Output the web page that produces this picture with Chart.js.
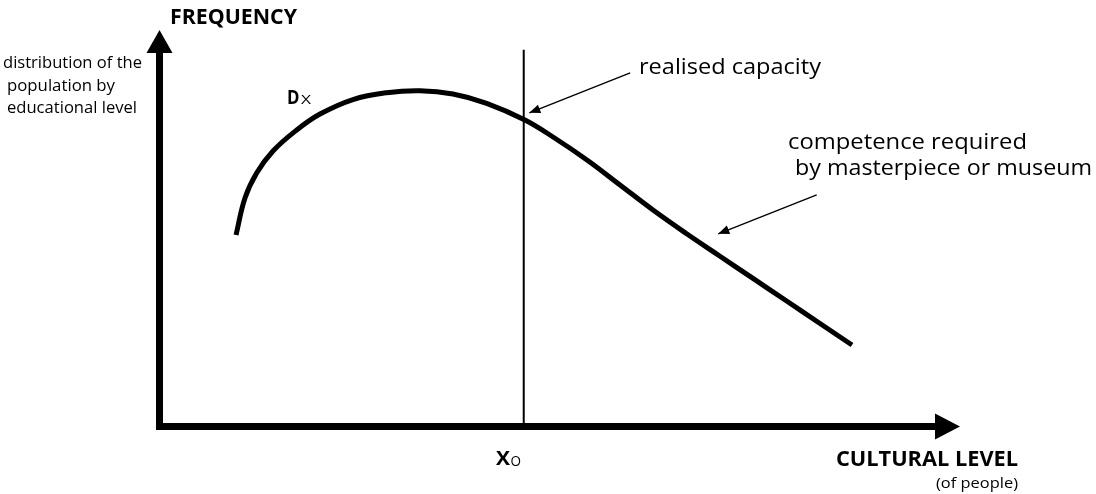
<!DOCTYPE html>
<html>
<head>
<meta charset="utf-8">
<script src="https://cdn.jsdelivr.net/npm/chart.js@4/dist/chart.umd.min.js"></script>
<style>
html,body{margin:0;padding:0;background:#fff;}
canvas{display:block;}
</style>
</head>
<body>
<canvas id="c" width="1096" height="494"></canvas>
<script>
// ---- data (arbitrary units: cultural level 0..100, frequency 0..100) ----
const curveX = [9.56, 10.68, 12.14, 14.18, 17.14, 20.05, 24.17, 28.38, 32.54, 36.66, 40.87, 45.65, 49.16, 53.40, 57.53, 61.65, 65.90, 70.02, 74.14, 78.39, 82.51, 86.51];
const curveY = [48.30, 57.63, 63.94, 69.48, 74.78, 78.81, 82.47, 84.19, 84.69, 83.86, 81.51, 77.30, 73.01, 67.21, 60.91, 54.60, 48.55, 42.95, 37.35, 31.58, 25.98, 20.56];
const x0Value = 45.5;          // X0, realised capacity
const x0LineTop = 95;
const axisMax = 100;           // arrow tips
const axisShaftEndX = 97.5;
const axisShaftEndY = 95;
const arrowCapacityX = [58.8, 46.2];
const arrowCapacityY = [89.2, 79.1];
const arrowMuseumX = [82.1, 69.8];
const arrowMuseumY = [58.4, 48.6];

const zip = (xs, ys) => xs.map((x, i) => ({x, y: ys[i]}));

const INK = '#000';

const arrowPlugin = {
  id: 'arrows',
  afterDatasetsDraw(chart) {
    const ctx = chart.ctx, xs = chart.scales.x, ys = chart.scales.y;
    ctx.save();
    ctx.fillStyle = INK;
    const tri = (tx, ty, bx, by, half) => {
      const dx = tx - bx, dy = ty - by, L = Math.hypot(dx, dy);
      const nx = -dy / L, ny = dx / L;
      ctx.beginPath();
      ctx.moveTo(tx, ty);
      ctx.lineTo(bx + nx * half, by + ny * half);
      ctx.lineTo(bx - nx * half, by - ny * half);
      ctx.closePath();
      ctx.fill();
    };
    {
      const tx = xs.getPixelForValue(0), ty = ys.getPixelForValue(axisMax);
      tri(tx, ty, tx, ty + 23, 13);
    }
    {
      const tx = xs.getPixelForValue(axisMax), ty = ys.getPixelForValue(0);
      tri(tx, ty, tx - 25, ty, 13);
    }
    chart.data.datasets.forEach(ds => {
      if (!ds.arrowHead) return;
      const n = ds.data.length;
      const a = ds.data[n - 2], b = ds.data[n - 1];
      const ax = xs.getPixelForValue(a.x), ay = ys.getPixelForValue(a.y);
      const bx = xs.getPixelForValue(b.x), by = ys.getPixelForValue(b.y);
      const L = Math.hypot(bx - ax, by - ay);
      const ux = (bx - ax) / L, uy = (by - ay) / L;
      tri(bx, by, bx - ux * 11, by - uy * 11, 4.5);
    });
    ctx.restore();
  },
  afterDraw(chart) {
    const ctx = chart.ctx;
    ctx.save();
    ctx.fillStyle = INK;
    ctx.textBaseline = 'alphabetic';
    ctx.textAlign = 'left';
    const txt = (s, font, left, base, width) => {
      ctx.font = font;
      const w = ctx.measureText(s).width;
      const sx = width ? width / w : 1;
      ctx.save();
      ctx.translate(left, base);
      ctx.scale(sx, 1);
      ctx.fillText(s, 0, 0);
      ctx.restore();
    };
    const R = '"Open Sans", "DejaVu Sans", sans-serif';
    txt('FREQUENCY', 'bold 21px ' + R, 170, 23.5, 127);
    txt('distribution of the', '16px ' + R, 3, 68, 139);
    txt('population by', '16px ' + R, 7, 91, 108);
    txt('educational level', '16px ' + R, 7, 113, 130);
    txt('D', 'bold 19px ' + R, 287, 103.5, 12.5);
    txt('X', '12px ' + R, 301, 103.5, 10);
    txt('realised capacity', '22px ' + R, 639, 73.5, 182);
    txt('competence required', '22px ' + R, 788, 148.5, 239);
    txt('by masterpiece or museum', '22px ' + R, 795, 175, 297);
    txt('X', 'bold 20px ' + R, 496, 464.5, 14);
    txt('O', '14px ' + R, 510.5, 466, 10.5);
    txt('CULTURAL LEVEL', 'bold 21px ' + R, 836, 466, 182);
    txt('(of people)', '14px ' + R, 936, 488, 82);
    ctx.restore();
  }
};

new Chart(document.getElementById('c'), {
  type: 'scatter',
  data: {
    datasets: [
      { // axes (shafts)
        data: [{x: 0, y: axisShaftEndY}, {x: 0, y: 0}, {x: axisShaftEndX, y: 0}],
        showLine: true, borderColor: INK, borderWidth: 7, pointRadius: 0,
        borderJoinStyle: 'miter', borderCapStyle: 'butt', tension: 0, clip: false
      },
      { // realised capacity vertical
        data: [{x: x0Value, y: 0}, {x: x0Value, y: x0LineTop}],
        showLine: true, borderColor: INK, borderWidth: 2, pointRadius: 0, tension: 0, clip: false
      },
      { // Dx distribution curve
        data: zip(curveX, curveY),
        showLine: true, borderColor: INK, borderWidth: 5, pointRadius: 0,
        tension: 0.4, borderCapStyle: 'butt', borderJoinStyle: 'round', clip: false
      },
      {
        data: zip(arrowCapacityX, arrowCapacityY),
        showLine: true, borderColor: INK, borderWidth: 1.4, pointRadius: 0, tension: 0,
        arrowHead: true, clip: false
      },
      {
        data: zip(arrowMuseumX, arrowMuseumY),
        showLine: true, borderColor: INK, borderWidth: 1.4, pointRadius: 0, tension: 0,
        arrowHead: true, clip: false
      }
    ]
  },
  options: {
    responsive: false,
    animation: false,
    devicePixelRatio: 1,
    layout: { padding: { left: 159.5, right: 136, top: 30, bottom: 67.5 } },
    scales: {
      x: { type: 'linear', min: 0, max: 100, display: false },
      y: { type: 'linear', min: 0, max: 100, display: false }
    },
    plugins: { legend: { display: false }, tooltip: { enabled: false } },
    elements: { line: { fill: false } }
  },
  plugins: [arrowPlugin]
});
</script>
</body>
</html>
